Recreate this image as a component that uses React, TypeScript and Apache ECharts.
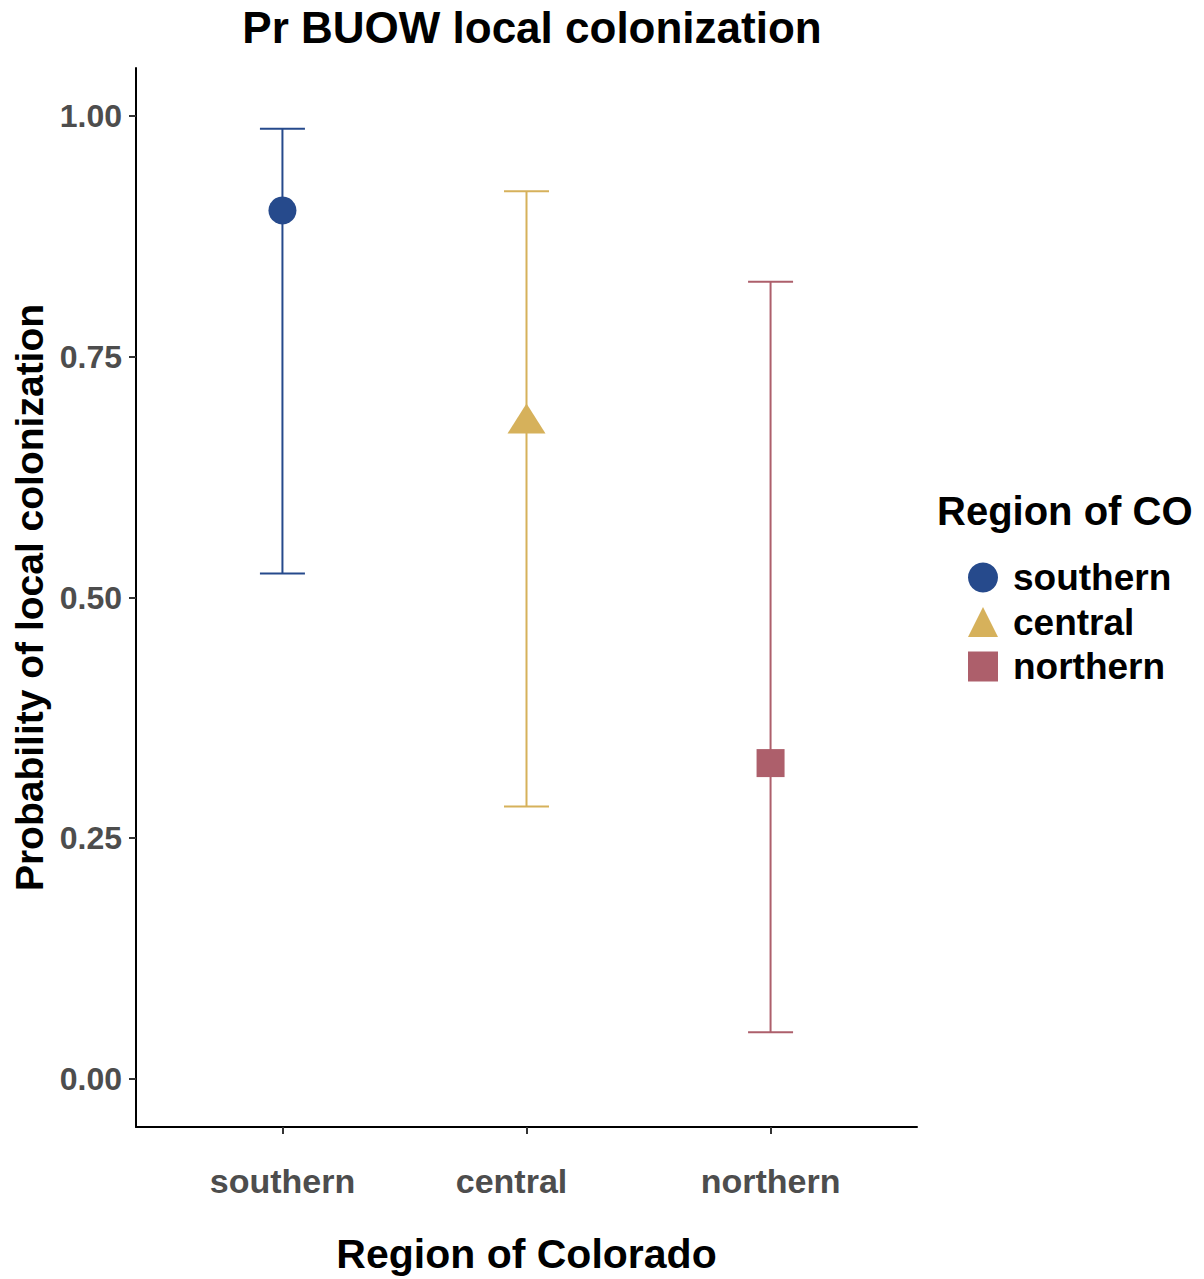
import React, { useEffect, useRef } from "react";
import * as echarts from "echarts";

const categories = ["southern", "central", "northern"];
const estimates = [0.902, 0.686, 0.328];
const lowerCI = [0.525, 0.283, 0.0485];
const upperCI = [0.987, 0.922, 0.828];
const colors = ["#264a8c", "#d6b15b", "#ad5f6b"];
const symbols = ["circle", "triangle", "rect"];
const symbolSizes: any[] = [28, [38, 30], 28];
const yTicks = [0, 0.25, 0.5, 0.75, 1];

const FONT = "'Liberation Sans', Arial, Helvetica, sans-serif";

export default function App() {
  const ref = useRef<HTMLDivElement>(null);
  useEffect(() => {
    if (!ref.current) return;
    const chart = echarts.init(ref.current, undefined, { renderer: "svg" });

    const errorSeries = categories.map((name, i) => ({
      type: "custom",
      name: name + "_err",
      silent: true,
      z: 1,
      data: [[i + 1, lowerCI[i], upperCI[i]]],
      renderItem: (params: any, api: any) => {
        const x = api.value(0);
        const lo = api.coord([x, api.value(1)]);
        const hi = api.coord([x, api.value(2)]);
        const half = 22.5;
        const style = { stroke: colors[i], lineWidth: 2, fill: "none" };
        return {
          type: "group",
          children: [
            { type: "line", shape: { x1: lo[0], y1: lo[1], x2: hi[0], y2: hi[1] }, style },
            { type: "line", shape: { x1: hi[0] - half, y1: hi[1], x2: hi[0] + half, y2: hi[1] }, style },
            { type: "line", shape: { x1: lo[0] - half, y1: lo[1], x2: lo[0] + half, y2: lo[1] }, style },
          ],
        };
      },
    }));

    const pointSeries = categories.map((name, i) => ({
      type: "scatter",
      name,
      z: 3,
      symbol: symbols[i],
      symbolSize: symbolSizes[i],
      itemStyle: { color: colors[i], opacity: 1 },
      data: [[i + 1, estimates[i]]],
    }));

    chart.setOption({
      animation: false,
      backgroundColor: "#ffffff",
      textStyle: { fontFamily: FONT },
      title: [
        {
          text: "Pr BUOW local colonization",
          left: 527,
          textAlign: "center",
          top: 0,
          textStyle: { fontFamily: FONT, fontSize: 44, fontWeight: "bold", color: "#000" },
        },
        {
          text: "Region of CO",
          left: 932,
          top: 486,
          textStyle: { fontFamily: FONT, fontSize: 40, fontWeight: "bold", color: "#000" },
        },
      ],
      legend: {
        orient: "vertical",
        left: 963,
        top: 554,
        itemWidth: 30,
        itemHeight: 30,
        itemGap: 7.5,
        selectedMode: false,
        textStyle: {
          fontFamily: FONT,
          fontSize: 37,
          fontWeight: "bold",
          color: "#000",
          lineHeight: 30,
          padding: [0, 0, 0, 10],
        },
        data: categories.map((name, i) => ({ name, icon: symbols[i], itemStyle: { color: colors[i] } })),
      },
      grid: { left: 136, top: 68, width: 781, height: 1064, containLabel: false },
      xAxis: {
        type: "value",
        min: 0.4,
        max: 3.6,
        name: "Region of Colorado",
        nameLocation: "middle",
        nameGap: 106,
        nameTextStyle: { fontFamily: FONT, fontSize: 41, fontWeight: "bold", color: "#000" },
        splitLine: { show: false },
        axisLine: { show: true, onZero: false, lineStyle: { color: "#000", width: 2 } },
        axisTick: { show: true, length: 7, customValues: [1, 2, 3], lineStyle: { color: "#333", width: 2 } },
        axisLabel: {
          customValues: [1, 2, 3],
          margin: 37,
          fontFamily: FONT,
          fontSize: 34,
          fontWeight: "bold",
          color: "#4d4d4d",
          formatter: (v: number) => {
            const idx = Math.round(v) - 1;
            const name = categories[idx];
            return idx === 1 ? "{shift|" + name + "}" : name;
          },
          rich: {
            shift: {
              fontFamily: FONT,
              fontSize: 34,
              fontWeight: "bold",
              color: "#4d4d4d",
              padding: [0, 30, 0, 0],
            },
          },
        },
      },
      yAxis: {
        type: "value",
        min: -0.05,
        max: 1.05,
        name: "Probability of local colonization",
        nameLocation: "middle",
        nameGap: 86,
        nameTextStyle: { fontFamily: FONT, fontSize: 39, fontWeight: "bold", color: "#000" },
        splitLine: { show: false },
        axisLine: { show: true, onZero: false, lineStyle: { color: "#000", width: 2 } },
        axisTick: { show: true, length: 7, customValues: yTicks, lineStyle: { color: "#333", width: 2 } },
        axisLabel: {
          customValues: yTicks,
          margin: 14,
          fontFamily: FONT,
          fontSize: 32,
          fontWeight: "bold",
          color: "#4d4d4d",
          formatter: (v: number) => v.toFixed(2),
        },
      },
      series: [...errorSeries, ...pointSeries],
    });
    return () => chart.dispose();
  }, []);

  return (
    <div
      ref={ref}
      style={{ position: "fixed", left: 0, top: 0, width: 1204, height: 1279, background: "#fff" }}
    />
  );
}
